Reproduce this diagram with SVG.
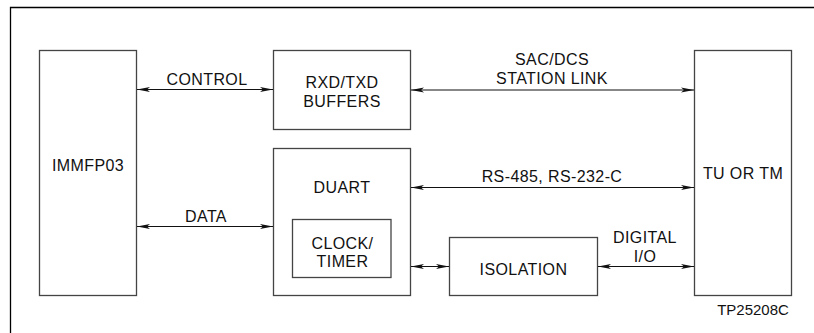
<svg xmlns="http://www.w3.org/2000/svg" width="814" height="333" viewBox="0 0 814 333">
<style>
.box{fill:#fff;stroke:#444;stroke-width:1.3}
.frame{fill:none;stroke:#000;stroke-width:1.3}
.t{font-family:"Liberation Sans",Arial,sans-serif;font-size:16px;letter-spacing:0.4px;fill:#111;text-anchor:middle}
.c{stroke:#111;stroke-width:1.2;fill:none;marker-start:url(#a);marker-end:url(#a)}
</style>
<defs>
<marker id="a" viewBox="0 0 13 6" refX="13" refY="3" markerWidth="13" markerHeight="6" markerUnits="userSpaceOnUse" orient="auto-start-reverse">
<path d="M0,0.5 L13,3 L0,5.5 L3,3 Z" fill="#111"/>
</marker>
</defs>
<rect width="814" height="333" fill="#fff"/>
<path class="frame" d="M10.5,333 V7.5 H814"/>
<g id="immfp03"><rect class="box" x="39.5" y="50.5" width="97" height="245"/><text class="t" x="88" y="170.5">IMMFP03</text></g>
<g id="buffers"><rect class="box" x="273.5" y="50.5" width="137" height="79"/><text class="t" x="342" y="87.5">RXD/TXD</text><text class="t" x="342" y="106.5">BUFFERS</text></g>
<g id="duart"><rect class="box" x="273.5" y="148.5" width="137" height="147"/><text class="t" x="342" y="192.5">DUART</text></g>
<g id="clock"><rect class="box" x="292.5" y="219.5" width="98.5" height="58"/><text class="t" x="342.5" y="248.5">CLOCK/</text><text class="t" x="342.5" y="266.5">TIMER</text></g>
<g id="isolation"><rect class="box" x="449.5" y="237.5" width="148" height="58"/><text class="t" x="523.5" y="274.5">ISOLATION</text></g>
<g id="tu"><rect class="box" x="694.5" y="50.5" width="97" height="245"/><text class="t" x="743" y="178.5">TU OR TM</text></g>
<g id="connectors">
<line class="c" x1="137" y1="89.5" x2="273" y2="89.5"/>
<line class="c" x1="137" y1="226.5" x2="273" y2="226.5"/>
<line class="c" x1="411" y1="90" x2="694" y2="90"/>
<line class="c" x1="411" y1="187.5" x2="694" y2="187.5"/>
<line class="c" x1="411" y1="266.5" x2="449" y2="266.5"/>
<line class="c" x1="598" y1="266.5" x2="694" y2="266.5"/>
</g>
<g id="labels">
<text class="t" x="207" y="85">CONTROL</text>
<text class="t" x="206" y="221.5">DATA</text>
<text class="t" x="552" y="65">SAC/DCS</text>
<text class="t" x="552" y="84">STATION LINK</text>
<text class="t" x="552" y="181.5">RS-485, RS-232-C</text>
<text class="t" x="645" y="242.5">DIGITAL</text>
<text class="t" x="645" y="261.5">I/O</text>
<text class="t" x="753" y="315" style="font-size:15px;letter-spacing:0">TP25208C</text>
</g>
</svg>
